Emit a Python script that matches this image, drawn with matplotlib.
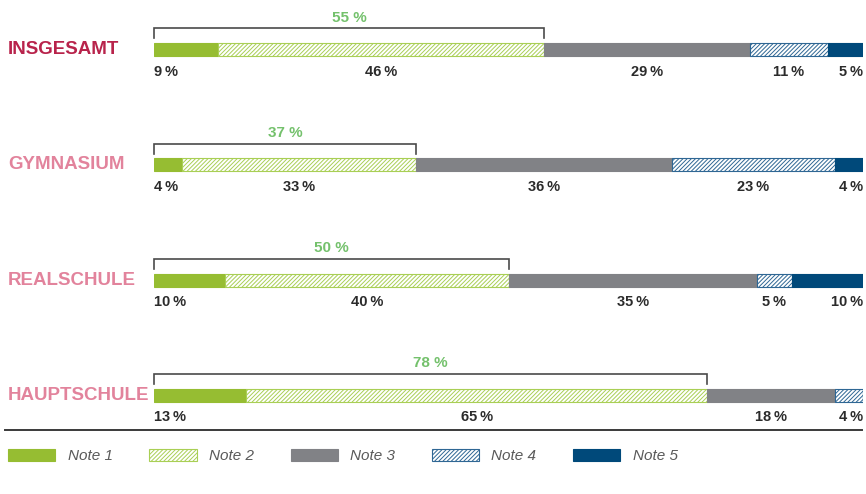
import matplotlib
matplotlib.use("Agg")
import matplotlib.pyplot as plt
import matplotlib.transforms as mtransforms
from matplotlib.lines import Line2D
from matplotlib.patches import Patch
import numpy as np

# data
categories = ["INSGESAMT", "GYMNASIUM", "REALSCHULE", "HAUPTSCHULE"]
note1 = [9, 4, 10, 13]
note2 = [46, 33, 40, 65]
note3 = [29, 36, 35, 18]
note4 = [11, 23, 5, 4]
note5 = [5, 4, 10, 0]
legend_labels = ["Note 1", "Note 2", "Note 3", "Note 4", "Note 5"]

plt.rcParams["hatch.linewidth"] = 0.7
plt.rcParams["font.family"] = ["Liberation Sans", "DejaVu Sans"]

fills = ["#96bd32", "white", "#818286", "white", "#00497a"]
edges = ["#96bd32", "#a9cf55", "#818286", "#2f6794", "#00497a"]
hatches = [None, "////////", None, "////////", None]
label_colors = ["#b8234b", "#e2839c", "#e2839c", "#e2839c"]

fig = plt.figure(figsize=(8.66, 4.94), dpi=100)
# x: 0..100 % maps to pixel 154..863; rows spaced ~115 px, first at y=49.5
ax = fig.add_axes([154 / 866, 0, 709 / 866, 1])
row_px = 115.33
ax.set_xlim(0, 100)
ax.set_ylim((494 - 49.5) / row_px, -49.5 / row_px)
ax.axis("off")

series = np.array([note1, note2, note3, note4, note5], dtype=float)
y = np.arange(len(categories))
bar_h = 13 / row_px
left = np.zeros(len(categories))
for k in range(len(series)):
    ax.barh(y, series[k], left=left, height=bar_h, color=fills[k],
            edgecolor=edges[k], hatch=hatches[k], linewidth=0.8)
    left += series[k]

px = 1 / row_px
trans = mtransforms.blended_transform_factory(fig.transFigure, ax.transData)
for i, cat in enumerate(categories):
    vals = series[:, i]
    cum = np.concatenate([[0], np.cumsum(vals)])
    nz = [k for k in range(len(vals)) if vals[k] > 0]
    for k in nz:
        txt = f"{int(vals[k])}\u2009%"
        if k == nz[0]:
            xpos, ha = cum[k], "left"
        elif k == nz[-1]:
            xpos, ha = cum[k + 1], "right"
        else:
            xpos, ha = (cum[k] + cum[k + 1]) / 2, "center"
        ax.text(xpos, i + 22 * px, txt, ha=ha, va="center", fontsize=10.5,
                fontweight="bold", color="#2b2b2b")

    # bracket over note 1 + note 2
    good = vals[0] + vals[1]
    ax.plot([0, 0, good, good], [i - 11 * px, i - 21 * px, i - 21 * px, i - 11 * px],
            color="#4a4a4a", lw=1.2, solid_joinstyle="miter", clip_on=False)
    ax.text(good / 2, i - 32 * px, f"{int(good)} %", ha="center", va="center",
            fontsize=11, fontweight="bold", color="#74c16c")

    ax.text(8 / 866, i, cat, transform=trans, ha="left", va="center",
            fontsize=13.5, fontweight="bold", color=label_colors[i])

# separator line above the legend
fig.add_artist(Line2D([5 / 866, 862 / 866], [1 - 430 / 494] * 2,
                      color="#3a3a3a", lw=1.4))

handles = [Patch(facecolor=fills[k], edgecolor=edges[k], hatch=hatches[k], lw=0.8)
           for k in range(5)]
fig.legend(handles, legend_labels, loc="center left",
           bbox_to_anchor=(8 / 866, 1 - 456 / 494), ncol=5, frameon=False,
           borderpad=0, borderaxespad=0, handlelength=3.1, handleheight=0.8,
           handletextpad=0.8, columnspacing=2.4,
           prop={"size": 11, "style": "italic"},
           labelcolor="#5a5a5a")

fig.savefig("out.png", dpi=100)
